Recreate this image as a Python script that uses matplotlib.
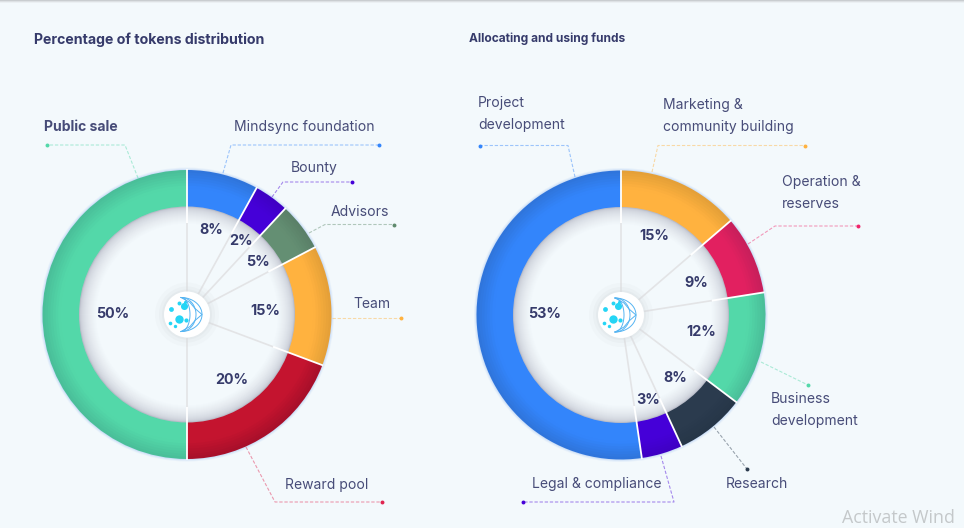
import numpy as np
import matplotlib

matplotlib.use('Agg')
import matplotlib.pyplot as plt
from matplotlib.colors import to_rgb
from matplotlib.patches import Circle

# --- Размер картинки ---
FIG_W = 964
FIG_H = 528

# --- Шрифты ---
FONT_FAMILY = 'Inter'
LABEL_FONTSIZE = 10.05
PERCENT_FONTSIZE = 10.3

# --- Цвета ---
BG_COLOR = '#f3f9fc'
TEXT_COLOR = '#474c78'
PERCENT_COLOR = '#363b6b'
SPOKE_COLOR = '#e3e4e6'
LOGO_COLOR = '#25d5f5'

# --- Кольца ---
R_OUTER = 144.5
R_INNER = 108
R_LOGO = 23
N_BANDS = 14

# --- Левая диаграмма: доли дуг, подписи как на картинке ---
TOKEN_SHARES = [8.0, 3.9, 5.4, 13.4, 19.3, 50.0]
TOKEN_PERCENTS = ['8%', '2%', '5%', '15%', '20%', '50%']
TOKEN_OUTER = ['#2f75dc', '#3f00c4', '#5a8068', '#e5a038', '#a80f2a', '#4abf99']
TOKEN_INNER = ['#3385fb', '#4500d8', '#648f73', '#ffb23f', '#c4142f', '#53d8a9']

# --- Правая диаграмма ---
FUNDS_SHARES = [13.7, 8.8, 12.8, 7.8, 4.6, 52.3]
FUNDS_PERCENTS = ['15%', '9%', '12%', '8%', '3%', '53%']
FUNDS_OUTER = ['#e5a038', '#c81f5b', '#4abf99', '#263648', '#3f00c4', '#2f75dc']
FUNDS_INNER = ['#ffb23f', '#e22060', '#53d8a9', '#2b3b4e', '#4500d8', '#3385fb']

# --- Расположение подписей (x, y в пикселях от левого верхнего угла) ---
TOKEN_PERCENT_XY = [(211, 230), (241, 241), (258, 262), (265, 311), (232, 380), (113, 314)]
FUNDS_PERCENT_XY = [(654, 236), (696, 283), (701, 332), (675, 378), (648, 400), (545, 314)]

LABELS = [
    ('Public sale', 44, 127, 'bold'),
    ('Mindsync foundation', 234, 127, 'normal'),
    ('Bounty', 291, 168, 'normal'),
    ('Advisors', 331, 212, 'normal'),
    ('Team', 353, 304, 'normal'),
    ('Reward pool', 285, 485, 'normal'),
    ('Project', 478, 103, 'normal'),
    ('development', 478, 125, 'normal'),
    ('Marketing &', 663, 105, 'normal'),
    ('community building', 663, 127.5, 'normal'),
    ('Operation &', 782, 182, 'normal'),
    ('reserves', 782, 204, 'normal'),
    ('Business', 771, 399, 'normal'),
    ('development', 771, 421, 'normal'),
    ('Research', 726, 484, 'normal'),
    ('Legal & compliance', 532, 484, 'normal'),
]

# Выноски: точки ломаной, последняя точка - маркер
LEADERS = [
    ([(138, 178), (125, 145), (47, 145)], '#53d8a9'),
    ([(223, 173), (231, 145), (379, 145)], '#3385fb'),
    ([(272, 197), (283, 182), (352, 182)], '#4500d8'),
    ([(309, 233), (325, 224.5), (394, 224.5)], '#5f8a6d'),
    ([(332, 318), (401, 318)], '#ffb23f'),
    ([(246, 447), (275, 502), (382, 502)], '#e0244f'),
    ([(575, 177), (568, 145.5), (480, 145.5)], '#3385fb'),
    ([(652, 172), (658, 145.5), (805, 145.5)], '#ffb23f'),
    ([(748, 244), (775, 226), (858, 226)], '#f0246a'),
    ([(761, 362), (808, 385)], '#53d8a9'),
    ([(714, 427), (747, 469)], '#2b3b4e'),
    ([(661, 456), (674, 502), (523, 502)], '#4500d8'),
]

# Значок в центре: смещения от центра кольца
LOGO_DOTS = [(-3, -9, 26), (-8, 4, 36), (-16, -6, 12), (-8, -12, 8), (-17, 8, 7),
             (-1, 5, 9), (-12, 11, 6), (-2, -13, 5)]
LOGO_ARCS = [(-6, 21), (-6, 15), (-6, 9)]


def py(y):
    return FIG_H - y


def mix(color_a, color_b, t):
    a = np.array(to_rgb(color_a))
    b = np.array(to_rgb(color_b))
    return tuple(a + (b - a) * t)


def draw_logo(ax, cx, cy):
    for extra, alpha in [(9, 0.12), (5, 0.18), (2, 0.25)]:
        ax.add_patch(Circle((cx, py(cy)), R_LOGO + extra, color='#d5dade', alpha=alpha, lw=0, zorder=5))
    ax.add_patch(Circle((cx, py(cy)), R_LOGO, color='white', lw=0, zorder=6))
    for dx, dy, size in LOGO_DOTS:
        ax.scatter(cx + dx, py(cy + dy), s=size, color=LOGO_COLOR, lw=0, zorder=7)
    # дуги значка
    t = np.radians(np.linspace(-90, 90, 40))
    for x0, bulge in LOGO_ARCS:
        ax.plot(cx + x0 + bulge * np.cos(t), py(cy + 17 * np.sin(t)), color='#55b4f2', lw=0.7, zorder=7)
    ax.plot(cx + np.array([-6, 3, 8, 15, 8, 3, -6]), py(cy + np.array([-17, -12, -6, 0, 6, 12, 17])),
            color='#55b4f2', lw=0.7, zorder=7)


def draw_donut(ax, cx, cy, shares, outer_colors, inner_colors, percents, percent_xy):
    center = (cx, py(cy))

    # голубоватый ореол снаружи
    for extra, alpha in [(2.5, 0.15), (1.5, 0.2), (0.7, 0.3)]:
        ax.add_patch(Circle(center, R_OUTER + extra, color='#a9c8f5', alpha=alpha, lw=0, zorder=1))

    # кольцо - вложенные круги от тёмного края к светлой середине
    for i in range(N_BANDS):
        radius = R_OUTER - (R_OUTER - R_INNER) * i / N_BANDS
        t = min(1.0, i / (N_BANDS * 0.45))
        band_colors = [mix(o, n, t) for o, n in zip(outer_colors, inner_colors)]
        wedges, _ = ax.pie(shares, colors=band_colors, startangle=90, counterclock=False,
                           center=center, radius=radius, frame=False)
        for w in wedges:
            w.set_zorder(2)
            w.set_linewidth(0)

    # внутренняя тень
    steps = 18
    for i in range(steps):
        t = i / (steps - 1)
        color = mix('#b9bcc8', BG_COLOR, t ** 0.45)
        ax.add_patch(Circle(center, R_INNER - i, color=color, lw=0, zorder=3))

    # спицы и белые разделители
    angles = 90 - np.cumsum([0] + shares[:-1]) * 3.6
    for a in np.radians(angles):
        ux, uy = np.cos(a), np.sin(a)
        ax.plot([cx + R_LOGO * ux, cx + 92 * ux], [py(cy) + R_LOGO * uy, py(cy) + 92 * uy],
                color=SPOKE_COLOR, lw=1.2, zorder=4, solid_capstyle='butt')
        ax.plot([cx + 92 * ux, cx + (R_OUTER + 1) * ux], [py(cy) + 92 * uy, py(cy) + (R_OUTER + 1) * uy],
                color='white', lw=1.3, zorder=4, solid_capstyle='butt')

    draw_logo(ax, cx, cy)

    for text, (x, y) in zip(percents, percent_xy):
        ax.text(x, py(y), text, ha='center', va='center', fontsize=PERCENT_FONTSIZE,
                fontweight='bold', color=PERCENT_COLOR, family=FONT_FAMILY, zorder=8)


def draw_leaders(ax):
    for points, color in LEADERS:
        xs = [p[0] for p in points]
        ys = [py(p[1]) for p in points]
        ax.plot(xs, ys, color=color, lw=0.8, ls=(0, (3, 1.6)), alpha=0.45, zorder=1)
        ax.scatter(xs[-1], ys[-1], s=8, color=color, lw=0, zorder=2)


def main():
    fig = plt.figure(figsize=(FIG_W / 100, FIG_H / 100), dpi=100, facecolor=BG_COLOR)
    ax = fig.add_axes([0, 0, 1, 1])

    draw_donut(ax, 187, 314.5, TOKEN_SHARES, TOKEN_OUTER, TOKEN_INNER, TOKEN_PERCENTS, TOKEN_PERCENT_XY)
    draw_donut(ax, 621, 315, FUNDS_SHARES, FUNDS_OUTER, FUNDS_INNER, FUNDS_PERCENTS, FUNDS_PERCENT_XY)
    draw_leaders(ax)

    # pie сбрасывает пределы осей, поэтому задаём их после
    ax.set_xlim(0, FIG_W)
    ax.set_ylim(0, FIG_H)
    ax.set_aspect('auto')
    ax.axis('off')

    # серая полоска сверху
    for i, color in enumerate(['#c9cdd0', '#dde1e4', '#ebf0f3']):
        ax.axhspan(py(i + 1), py(i), color=color, lw=0, zorder=1)

    ax.text(34, py(39.5), 'Percentage of tokens distribution', ha='left', va='center', fontsize=10.2,
            fontweight='bold', color=PERCENT_COLOR, family=FONT_FAMILY)
    ax.text(469, py(39), 'Allocating and using funds', ha='left', va='center', fontsize=8.6,
            fontweight='bold', color=PERCENT_COLOR, family=FONT_FAMILY)

    for text, x, y, weight in LABELS:
        ax.text(x, py(y), text, ha='left', va='center', fontsize=LABEL_FONTSIZE,
                fontweight=weight, color=TEXT_COLOR, family=FONT_FAMILY)

    ax.text(842, py(518), 'Activate Wind', ha='left', va='center', fontsize=12.8,
            color='#c4c8ca', family='Open Sans')

    fig.savefig('out.png', dpi=100, facecolor=BG_COLOR)
    plt.close(fig)


if __name__ == "__main__":
    main()
